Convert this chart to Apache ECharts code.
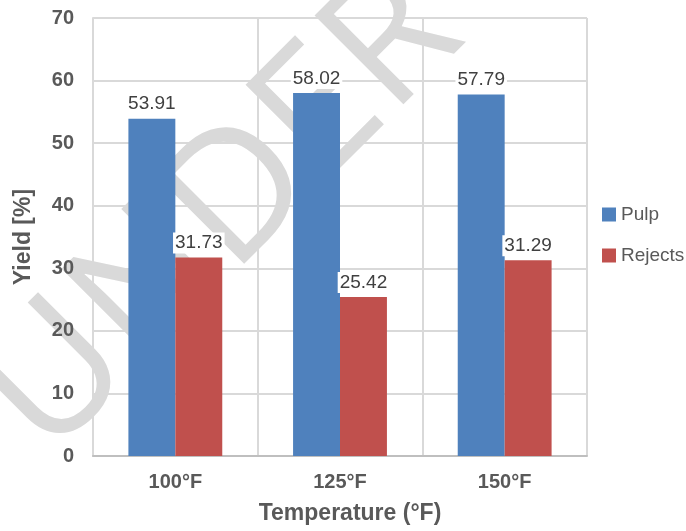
<!DOCTYPE html>
<html>
<head>
<meta charset="utf-8">
<script src="https://cdn.jsdelivr.net/npm/echarts@6/dist/echarts.min.js"></script>
<style>html,body{margin:0;padding:0;background:#fff;}#c{width:686px;height:531px;}</style>
</head>
<body>
<div id="c"></div>
<script>
const categories = ['100°F', '125°F', '150°F'];
const pulp = [53.91, 58.02, 57.79];
const rejects = [31.73, 25.42, 31.29];
const seriesNames = ['Pulp', 'Rejects'];
const watermarkText = 'UNDER REVIEW';

const chart = echarts.init(document.getElementById('c'), null, {renderer: 'canvas'});
const font = '"Liberation Sans", Arial, sans-serif';
const labelStyle = {
  show: true, position: 'top', distance: 4,
  color: '#404040', fontSize: 19, fontFamily: font,
  backgroundColor: '#fff', padding: [1, 2]
};
chart.setOption({
  animation: false,
  backgroundColor: '#fff',
  textStyle: {fontFamily: font},
  graphic: [{
    type: 'text', z: -10, x: 12, y: 425, rotation: Math.PI / 4,
    style: {
      text: watermarkText, fill: '#d9d9d9',
      font: 'normal 176px "Open Sans", "DejaVu Sans", sans-serif',
      textAlign: 'left', textVerticalAlign: 'middle'
    }
  }],
  grid: {left: 93, right: 99, top: 18, bottom: 75, outerBoundsMode: 'none', containLabel: false},
  legend: {
    orient: 'vertical', left: 602, top: 205, padding: 0,
    itemWidth: 14, itemHeight: 14, itemGap: 22,
    icon: 'rect',
    textStyle: {color: '#595959', fontSize: 19, fontFamily: font},
    data: seriesNames
  },
  xAxis: {
    type: 'category', data: categories,
    name: 'Temperature (°F)', nameLocation: 'middle', nameGap: 46,
    nameTextStyle: {color: '#595959', fontSize: 23, fontWeight: 'bold', fontFamily: font, padding: [0, 0, 0, 20]},
    axisLine: {show: true, lineStyle: {color: '#bfbfbf', width: 2}},
    axisTick: {show: false},
    axisLabel: {color: '#595959', fontSize: 20, fontWeight: 'bold', margin: 16, fontFamily: font},
    splitLine: {show: true, lineStyle: {color: '#d9d9d9', width: 2}}
  },
  yAxis: {
    type: 'value', min: 0, max: 70, interval: 10,
    name: 'Yield [%]', nameLocation: 'middle', nameGap: 58, nameRotate: 90,
    nameTextStyle: {color: '#595959', fontSize: 23, fontWeight: 'bold', fontFamily: font},
    axisLine: {show: true, lineStyle: {color: '#d9d9d9', width: 2}},
    axisTick: {show: false},
    axisLabel: {color: '#595959', fontSize: 20, fontWeight: 'bold', margin: 19, fontFamily: font},
    splitLine: {show: true, lineStyle: {color: '#d9d9d9', width: 2}}
  },
  series: [
    {name: seriesNames[0], type: 'bar', data: pulp, barGap: '0%', barCategoryGap: '43%',
     itemStyle: {color: '#4f81bd'}, label: labelStyle},
    {name: seriesNames[1], type: 'bar', data: rejects, barGap: '0%', barCategoryGap: '43%',
     itemStyle: {color: '#c0504d'}, label: labelStyle}
  ]
});
</script>
</body>
</html>
